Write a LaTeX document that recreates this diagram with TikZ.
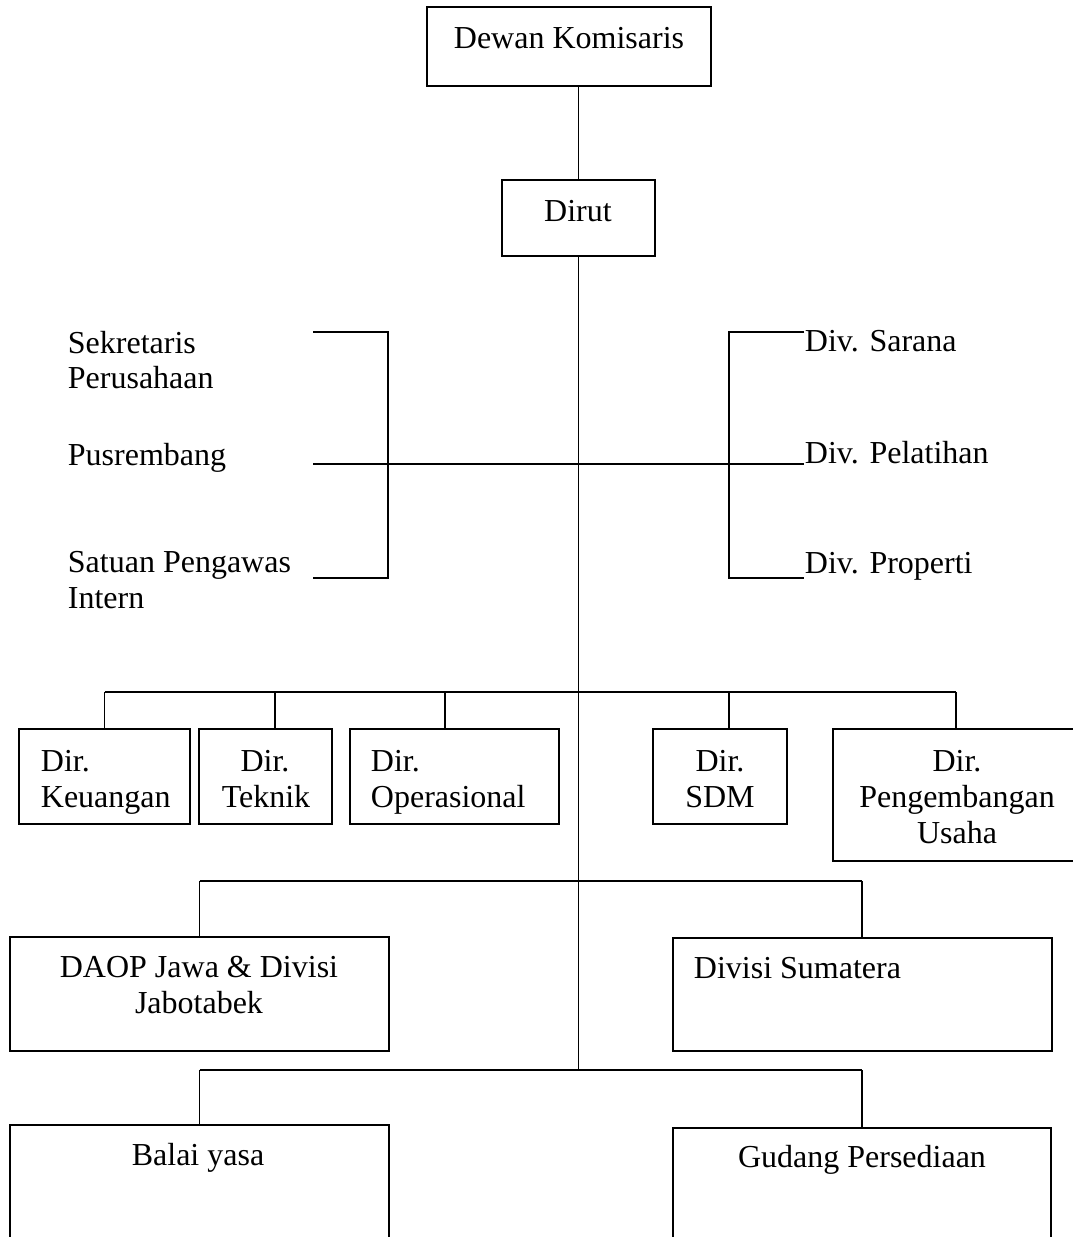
\documentclass[tikz,border=0pt]{standalone}
\usepackage{fontspec}
\setmainfont{Liberation Serif}
\usetikzlibrary{fit}
\begin{document}
\begin{tikzpicture}[x=0.75pt,y=-0.75pt,
  line width=1.4pt,
  box/.style={draw, rectangle, inner sep=0pt, line width=1.4pt},
  txt/.style={inner sep=0pt, font=\fontsize{24}{27}\selectfont},
  tc/.style={txt, anchor=base},
  tl/.style={txt, anchor=base west},
  conn/.style={draw, line width=1.4pt}]
\useasboundingbox (0,0) rectangle (1073,1237);
\clip (0,0) rectangle (1073,1237);
\fill[white] (0,0) rectangle (1073,1237);

% boxes
\node[box, fit={(427,7) (711,86)}] (dk) {};
\node[box, fit={(502,180) (655,256)}] (dirut) {};
\node[box, fit={(19,729) (190,824)}] (keu) {};
\node[box, fit={(199,729) (332,824)}] (tek) {};
\node[box, fit={(350,729) (559,824)}] (ops) {};
\node[box, fit={(653,729) (787,824)}] (sdm) {};
\node[box, fit={(833,729) (1095,861)}] (peng) {};
\node[box, fit={(10,937) (389,1051)}] (daop) {};
\node[box, fit={(673,938) (1052,1051)}] (sum) {};
\node[box, fit={(10,1125) (389,1260)}] (balai) {};
\node[box, fit={(673,1128) (1051,1260)}] (gud) {};

% texts
\node[tc] (tdk) at (569,49) {Dewan Komisaris};
\node[tc] (tdirut) at (578,222) {Dirut};
\node[tl] (tsek1) at (67,353) {Sekretaris};
\node[tl] (tsek2) at (67,388) {Perusahaan};
\node[tl] (tpus) at (67,465) {Pusrembang};
\node[tl] (tspi1) at (67,572) {Satuan Pengawas};
\node[tl] (tspi2) at (67,608) {Intern};
\node[tl] (tdsar) at (804,351) {Div. Sarana};
\node[tl] (tdpel) at (804,463) {Div. Pelatihan};
\node[tl] (tdpro) at (804,573) {Div. Properti};
\node[tl] (tkeu1) at (40,771) {Dir.};
\node[tl] (tkeu2) at (40,807) {Keuangan};
\node[tc] (ttek1) at (265,771) {Dir.};
\node[tc] (ttek2) at (266,807) {Teknik};
\node[tl] (tops1) at (370,771) {Dir.};
\node[tl] (tops2) at (370,807) {Operasional};
\node[tc] (tsdm1) at (720,771) {Dir.};
\node[tc] (tsdm2) at (720,807) {SDM};
\node[tc] (tpeng1) at (957,771) {Dir.};
\node[tc] (tpeng2) at (957,807) {Pengembangan};
\node[tc] (tpeng3) at (957,843) {Usaha};
\node[tc] (tdaop1) at (199,977) {DAOP Jawa \& Divisi};
\node[tc] (tdaop2) at (199,1013) {Jabotabek};
\node[tl] (tsum) at (693,978) {Divisi Sumatera};
\node[tc] (tbalai) at (198,1165) {Balai yasa};
\node[tc] (tgud) at (862,1167) {Gudang Persediaan};

% coordinates for connectors
\coordinate (trunkEnd) at (578.5,1070);
\coordinate (midL) at (313,464);
\coordinate (midR) at (804,464);
\coordinate (lbTop) at (313,332);
\coordinate (lbBot) at (313,578);
\coordinate (rbTop) at (804,332);
\coordinate (rbBot) at (804,578);
\coordinate (busA) at (104.5,692);
\coordinate (busB) at (956,692);
\coordinate (bus2L) at (199.5,881);
\coordinate (bus2R) at (862,881);
\coordinate (bus3L) at (199.5,1070);
\coordinate (bus3R) at (862,1070);

% connectors
\draw[conn] (dirut.north |- dk.south) -- (dirut.north);
\draw[conn] (dirut.south) -- (trunkEnd);
\draw[conn] (lbTop) -- (388,332) -- (388,578) -- (lbBot);
\draw[conn] (midL) -- (midR);
\draw[conn] (rbTop) -- (729,332) -- (729,578) -- (rbBot);
\draw[conn] (busA) -- (busB);
\draw[conn] (busA) -- (busA |- keu.north);
\draw[conn] (275,692) -- (275,729);
\draw[conn] (445,692) -- (445,729);
\draw[conn] (729,692) -- (729,729);
\draw[conn] (busB) -- (busB |- peng.north);
\draw[conn] (bus2L) -- (bus2R);
\draw[conn] (bus2L) -- (bus2L |- daop.north);
\draw[conn] (bus2R) -- (bus2R |- sum.north);
\draw[conn] (bus3L) -- (bus3R);
\draw[conn] (bus3L) -- (bus3L |- balai.north);
\draw[conn] (bus3R) -- (bus3R |- gud.north);
\end{tikzpicture}
\end{document}
